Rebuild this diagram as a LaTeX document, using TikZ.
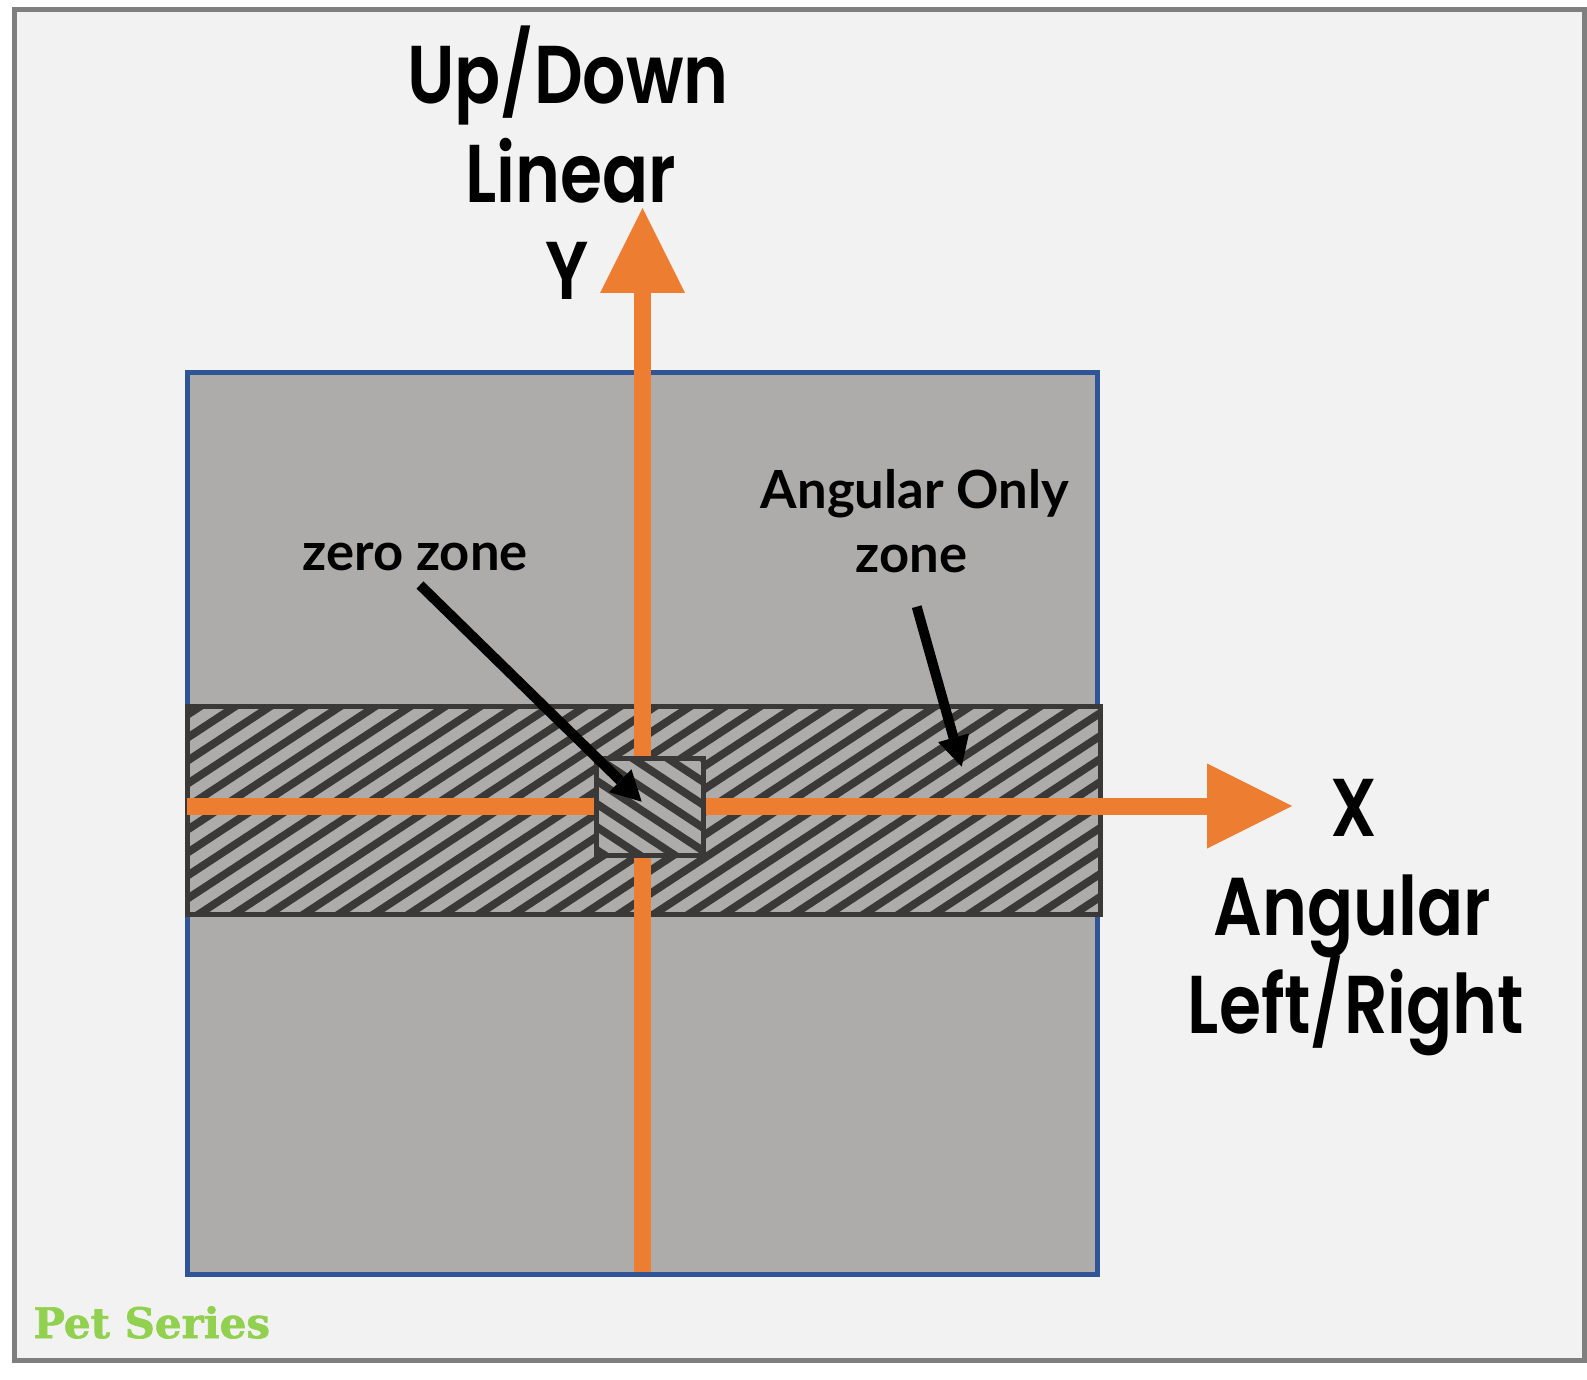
\documentclass[tikz,border=0pt]{standalone}
\usepackage{fontspec}
\usetikzlibrary{arrows.meta}
\newfontfamily\bigfont{Poppins SemiBold}
\newfontfamily\smallfont{Lato}
\newfontfamily\petfont{DejaVu Serif}[BoldFont={DejaVu Serif Bold}, BoldFeatures={FakeBold=1.5}]
\definecolor{framegray}{HTML}{7F7F7F}
\definecolor{panelbg}{HTML}{F2F2F2}
\definecolor{boxgray}{HTML}{AEABAB}
\definecolor{boxblue}{HTML}{2F5597}
\definecolor{darkline}{HTML}{3B3838}
\definecolor{axisorange}{HTML}{ED7D31}
\definecolor{petgreen}{HTML}{92D050}
\newcommand{\bigsq}[1]{\scalebox{0.83}[1]{#1}}
\tikzset{
  bigtxt/.style={font=\bigfont\fontsize{41pt}{49pt}\selectfont, inner sep=0pt, anchor=base},
  smalltxt/.style={font=\smallfont\bfseries\fontsize{26.3pt}{30pt}\selectfont, inner sep=0pt, anchor=base},
  axisline/.style={draw=axisorange, line width=8.5pt, line cap=butt,
    -{Triangle[length=42.5pt,width=42.5pt,line width=0pt]}},
  blkarrow/.style={draw=black, line width=5pt, line cap=butt,
    -{Triangle[length=15pt,width=16pt,line width=0pt]}},
  hatchline/.style={draw=darkline, line width=3.9pt},
}
\begin{document}
\begin{tikzpicture}[x=0.5pt,y=-0.5pt]
\useasboundingbox (0,0) rectangle (1587,1380);
\fill[white] (0,0) rectangle (1587,1380);
% outer panel
\draw[draw=framegray, line width=2.5pt, fill=panelbg] (14.3,9.2) rectangle (1584.5,1360.5);
% main gray box
\draw[fill=boxgray, draw=boxblue, line width=2.5pt] (187.5,372.5) rectangle (1097.5,1274);
% hatched band (angular only zone)
\fill[boxgray] (187.5,706.5) rectangle (1100.5,914.5);
\begin{scope}
  \clip (187.5,706.5) rectangle (1100.5,914.5);
  \foreach \i in {-160,-125,...,1110} {
    \draw[hatchline] (\i,920) -- ++(335,-220);
  }
\end{scope}
\draw[draw=darkline, line width=2.5pt] (187.5,706.5) rectangle (1100.5,914.5);
% axes
\coordinate (ybot) at (642.5,1272);
\coordinate (ytop) at (642.5,208);
\coordinate (xleft) at (187,806);
\coordinate (xright) at (1292,806);
\draw[axisline] (ybot) -- (ytop);
\draw[axisline] (xleft) -- (xright);
% zero zone box
\fill[boxgray] (596,758) rectangle (703,855);
\begin{scope}
  \clip (596,758) rectangle (703,855);
  \foreach \i in {410,445,...,720} {
    \draw[hatchline] (\i,750) -- ++(170,112);
  }
\end{scope}
\draw[draw=darkline, line width=2.5pt] (596,758) rectangle (703,855);
% labels
\node[bigtxt] (updown) at (568,104) {\bigsq{Up/Down}};
\node[bigtxt] (linear) at (571,203) {\bigsq{Linear}};
\node[bigtxt] (ylab) at (567.5,300) {\bigsq{Y}};
\node[bigtxt] (xlab) at (1354,836) {\bigsq{X}};
\node[bigtxt] (angular) at (1352,935) {\bigsq{Angular}};
\node[bigtxt] (leftright) at (1356,1033) {\bigsq{Left/Right}};
\node[smalltxt] (zerozone) at (415,570) {zero zone};
\node[smalltxt] (angonly) at (915,509) {Angular Only};
\node[smalltxt] (angzone) at (911.5,573) {zone};
\node[font=\petfont\bfseries\fontsize{21pt}{25pt}\selectfont, text=petgreen, inner sep=0pt, anchor=base west] (pet) at (33,1338) {Pet Series};
% pointer arrows
\coordinate (zztail) at (420,585);
\coordinate (zztip) at (641.7,801.7);
\draw[blkarrow] (zztail) -- (zztip);
\coordinate (aotail) at (916.7,606.7);
\coordinate (aotip) at (961.7,766.7);
\draw[blkarrow] (aotail) -- (aotip);
\end{tikzpicture}
\end{document}
